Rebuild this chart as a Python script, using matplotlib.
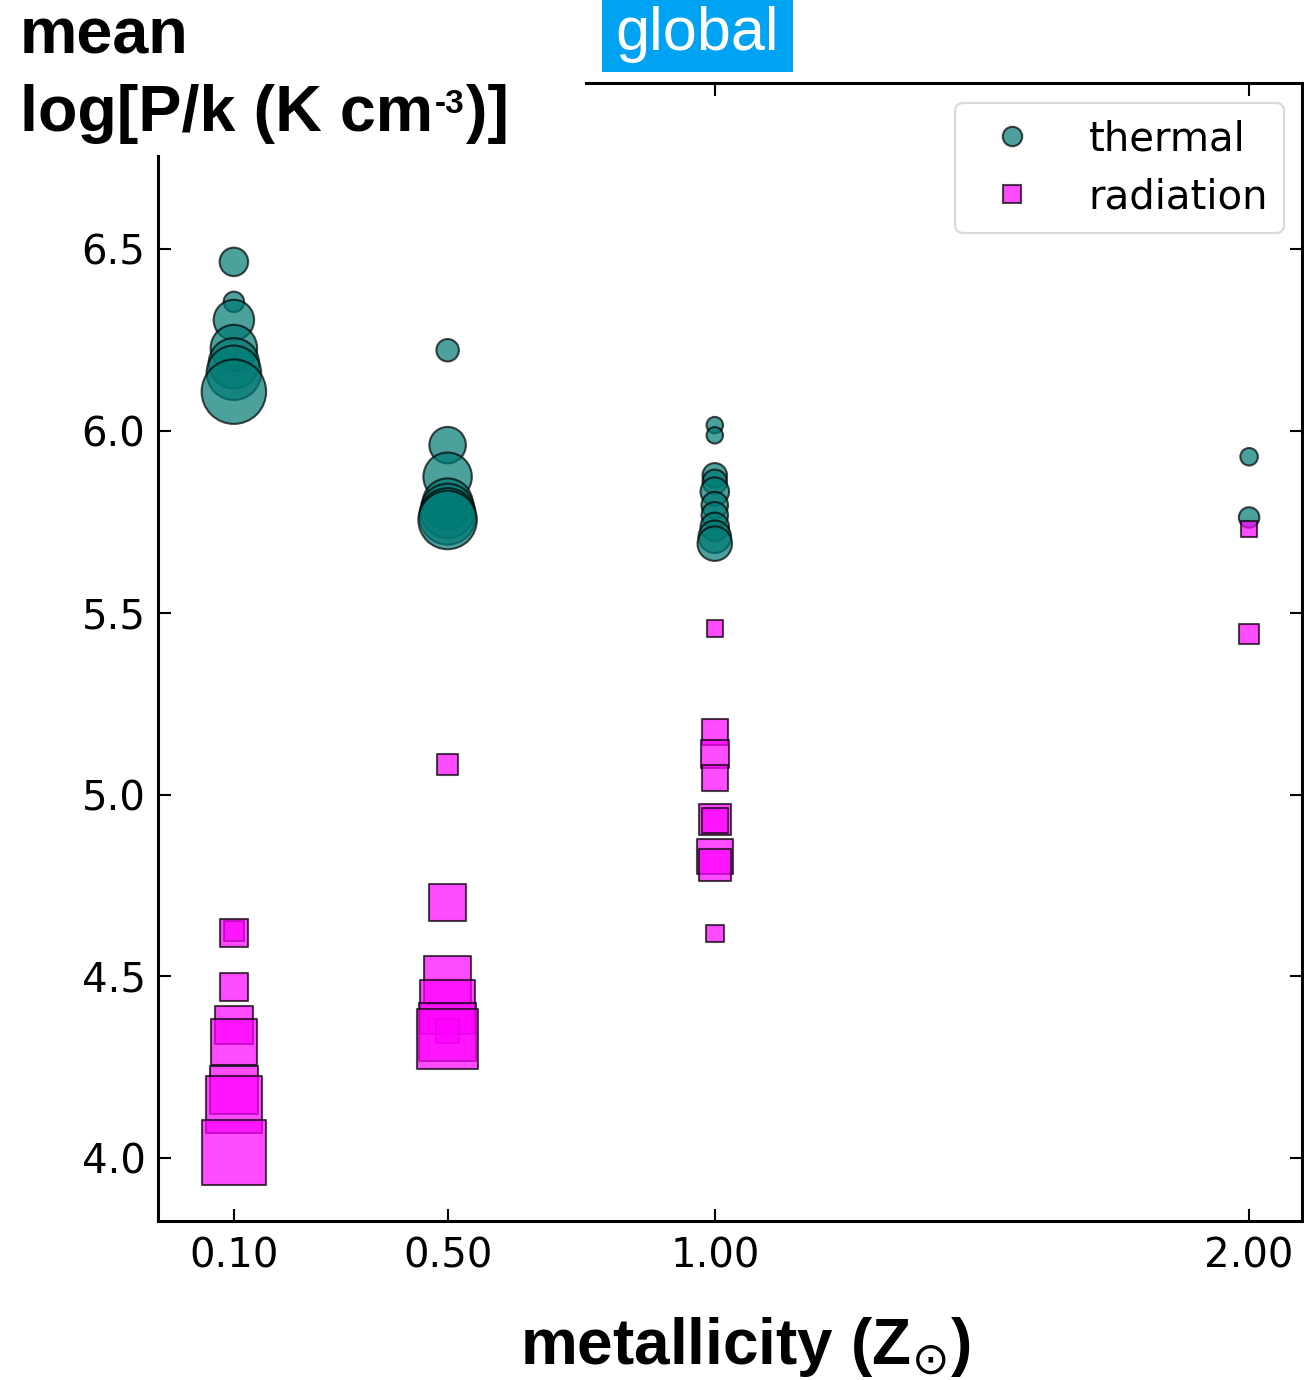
import matplotlib
matplotlib.use("Agg")
import matplotlib.pyplot as plt
from matplotlib.patches import Rectangle
from matplotlib.lines import Line2D

# ---------------- data ----------------
xtick_values = [0.10, 0.50, 1.00, 2.00]
xtick_labels = ["0.10", "0.50", "1.00", "2.00"]
ytick_values = [4.0, 4.5, 5.0, 5.5, 6.0, 6.5]
ytick_labels = ["4.0", "4.5", "5.0", "5.5", "6.0", "6.5"]

thermal_z = [0.1] * 7 + [0.5] * 7 + [1.0] * 10 + [2.0] * 2
thermal_logp = [6.465, 6.355, 6.305, 6.228, 6.186, 6.160, 6.108,
                6.222, 5.961, 5.874, 5.800, 5.780, 5.765, 5.755,
                6.016, 5.988, 5.878, 5.860, 5.833, 5.796, 5.768, 5.736, 5.709, 5.690,
                5.929, 5.762]
thermal_area = [421, 218, 850, 1121, 1322, 1540, 2157,
                262, 691, 1219, 1322, 1540, 1655, 1774,
                141, 141, 311, 311, 421, 364, 364, 421, 548, 617,
                159, 218]

radiation_z = [0.1] * 8 + [0.5] * 7 + [1.0] * 9 + [2.0] * 2
radiation_logp = [4.625, 4.619, 4.471, 4.366, 4.320, 4.187, 4.148, 4.016,
                  5.083, 4.703, 4.490, 4.415, 4.350, 4.347, 4.327,
                  5.457, 5.172, 5.112, 5.045, 4.932, 4.928, 4.829, 4.806, 4.618,
                  5.730, 5.442]
radiation_area = [218, 392, 421, 768, 1121, 1219, 1655, 2157,
                  240, 729, 1170, 1540, 286, 1714, 1897,
                  141, 337, 421, 337, 514, 337, 653, 514, 159,
                  125, 197]

thermal_color = "#007a74"
radiation_color = "magenta"

# ---------------- figure ----------------
W, H = 1304, 1380
fig = plt.figure(figsize=(W / 100, H / 100), dpi=100)
ax = fig.add_axes([158 / W, 1 - 1221 / H, (1302 - 158) / W, (1221 - 83) / H])

ax.scatter(thermal_z, thermal_logp, s=thermal_area, marker="o",
           facecolor=thermal_color, edgecolor="black", linewidth=1.5,
           alpha=0.7, zorder=2)
ax.scatter(radiation_z, radiation_logp, s=radiation_area, marker="s",
           facecolor=radiation_color, edgecolor="black", linewidth=1.5,
           alpha=0.7, zorder=3)

ax.set_xlim(-0.042, 2.099)
ax.set_ylim(3.827, 6.957)
ax.set_xticks(xtick_values)
ax.set_xticklabels(xtick_labels)
ax.set_yticks(ytick_values)
ax.set_yticklabels(ytick_labels)
ax.tick_params(direction="in", top=True, right=True, length=9, width=1.5,
               labelsize=29, colors="black")
ax.tick_params(axis="x", pad=11)
ax.tick_params(axis="y", pad=9)
for sp in ax.spines.values():
    sp.set_linewidth(2.2)

# legend
handles = [
    Line2D([], [], linestyle="none", marker="o", markersize=14,
           markerfacecolor=thermal_color, markeredgecolor="black",
           markeredgewidth=1.5, alpha=0.7, label="thermal"),
    Line2D([], [], linestyle="none", marker="s", markersize=12.5,
           markerfacecolor=radiation_color, markeredgecolor="black",
           markeredgewidth=1.5, alpha=0.7, label="radiation"),
]
leg = ax.legend(handles=handles, loc="upper right",
                bbox_to_anchor=(1284 / W, 1 - 103 / H),
                bbox_transform=fig.transFigure, borderaxespad=0,
                fontsize=29, frameon=True, fancybox=True,
                handletextpad=0.9, labelspacing=0.45)
leg.get_frame().set_edgecolor("0.82")
leg.get_frame().set_linewidth(1.6)

# white cover over the top-left corner (label area)
fig.patches.append(Rectangle((0, 1 - 155 / H), 585 / W, 155 / H,
                             transform=fig.transFigure, facecolor="white",
                             edgecolor="none", zorder=5))

# y label (two lines, top-left)
lab_kw = dict(family="Liberation Sans", weight="bold", ha="left",
              va="baseline", zorder=6)
fig.text(20 / W, 1 - 54 / H, "mean", fontsize=46.5, **lab_kw)
renderer = fig.canvas.get_renderer()
base_y = 1 - 131 / H
t1 = fig.text(20 / W, base_y, "log[P/k (K cm", fontsize=46.5, **lab_kw)
bb1 = t1.get_window_extent(renderer)
t2 = fig.text((bb1.x1 + 2) / W, base_y + 18 / H, "-3", fontsize=24, **lab_kw)
bb2 = t2.get_window_extent(renderer)
fig.text((bb2.x1 + 1) / W, base_y, ")]", fontsize=46.5, **lab_kw)

# "global" tag
fig.patches.append(Rectangle((602 / W, 1 - 72 / H), (793 - 602) / W, 72 / H,
                             transform=fig.transFigure, facecolor="#00a2f2",
                             edgecolor="none", zorder=5))
fig.text(697 / W, 1 - 50 / H, "global", family="Liberation Sans",
         fontsize=44, color="white", ha="center", va="baseline", zorder=6)

# x label
fig.text(745 / W, 1 - 1364 / H, r"metallicity (Z$_{\odot}$)",
         family="Liberation Sans", weight="bold", fontsize=46,
         ha="center", va="baseline", zorder=6)

fig.savefig("out.png", dpi=100)
